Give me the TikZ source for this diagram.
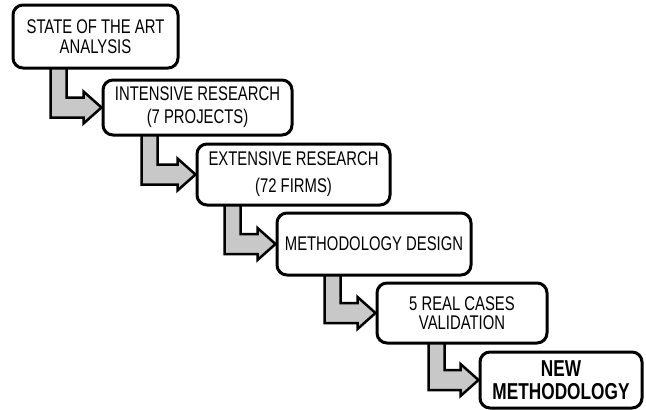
\documentclass[tikz,border=0pt]{standalone}
\usepackage{fontspec}
\setmainfont{Liberation Sans}[FakeStretch=0.75]
\usetikzlibrary{calc,backgrounds}
\definecolor{arrowgray}{RGB}{200,200,200}
\tikzset{
  stepbox/.style={draw=black, line width=3pt, rounded corners=10pt, fill=white,
    align=center, inner sep=0pt},
  bentarrow/.style={draw=black, line width=2.5pt, fill=arrowgray, line join=miter},
}
\newcommand\bentarr[3]{%
  \draw[bentarrow] let \p1=($(#1.south west)+(#3,0)$), \p2=(#2.west) in
    (\x1,\y1+4pt) -- (\x1+16pt,\y1+4pt) -- (\x1+16pt,\y2+10pt) --
    (\x2-18pt,\y2+10pt) -- (\x2-18pt,\y2+16pt) -- (\x2,\y2) --
    (\x2-18pt,\y2-16pt) -- (\x2-18pt,\y2-10pt) -- (\x1,\y2-10pt) -- cycle;}
\begin{document}
\begin{tikzpicture}[x=1pt,y=-1pt]
\useasboundingbox (0,0) rectangle (646,410);
\node[stepbox, minimum width=165pt, minimum height=63pt,
  font=\fontsize{19.8}{20}\selectfont] (b1) at (95.5,36.5)
  {STATE OF THE ART\\ANALYSIS};
\node[stepbox, minimum width=189pt, minimum height=55pt,
  font=\fontsize{19.8}{23}\selectfont] (b2) at (197.5,107.5)
  {INTENSIVE RESEARCH\\(7 PROJECTS)};
\node[stepbox, minimum width=193pt, minimum height=61pt,
  font=\fontsize{19.8}{27}\selectfont] (b3) at (293.5,174.5)
  {EXTENSIVE RESEARCH\\(72 FIRMS)};
\node[stepbox, minimum width=194pt, minimum height=62pt,
  font=\fontsize{19.8}{20}\selectfont] (b4) at (374,244)
  {METHODOLOGY DESIGN};
\node[stepbox, minimum width=170pt, minimum height=60pt,
  font=\fontsize{19.8}{19.5}\selectfont] (b5) at (462,313)
  {5 REAL CASES\\VALIDATION};
\node[stepbox, minimum width=162pt, minimum height=56pt,
  font=\fontsize{23}{23}\selectfont\bfseries] (b6) at (561,380)
  {NEW\\METHODOLOGY};
\begin{scope}[on background layer]
  \fill[white] (0,0) rectangle (646,410);
  \bentarr{b1}{b2}{39}
  \bentarr{b2}{b3}{40}
  \bentarr{b3}{b4}{29}
  \bentarr{b4}{b5}{49}
  \bentarr{b5}{b6}{53}
\end{scope}
\end{tikzpicture}
\end{document}
